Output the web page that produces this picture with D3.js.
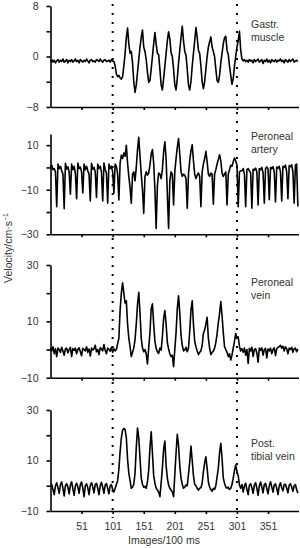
<!DOCTYPE html>
<html>
<head>
<meta charset="utf-8">
<script src="https://cdn.jsdelivr.net/npm/d3@7"></script>
<style>
body { margin: 0; background: #fff; }
text { font-family: "Liberation Sans", Arial, sans-serif; }
</style>
</head>
<body>
<script>
//Sampling: one value every 2 images, starting at image 1
var firstImage = 1;
var imageStep = 2;

//Stimulation window (dotted lines)
var markers = [101, 301];

//x tick labels
var xTicks = [51, 101, 151, 201, 251, 301, 351];

//Gastr. muscle velocity
var muscle = [
	//baseline
	-0.8, -0.5, -0.9, -0.6, -1.0, -0.7, -0.5, -0.9, -0.6, -0.8,
	-0.4, -0.9, -0.7, -0.5, -1.0, -0.6, -0.8, -0.5, -0.9, -0.7,
	-0.4, -0.8, -0.6, -1.0, -0.5, -0.7, -0.9, -0.6, -0.8, -0.4,
	-0.7, -1.0, -0.6, -0.5, -0.8, -0.7, -0.9, -0.5, -0.6, -0.8,
	-0.4, -0.7, -0.9, -0.6, -0.5, -0.8, -0.7, -0.6, -0.9, -0.5,
	-0.7,
	//contractions
	-0.8, -1.5, -2.8, -3.2, -3.0, -3.4, -3.6, -3.2, -1.5, 0.5,
	3.0, 4.5, 2.0, 0.5, 0.8, -1.0, -4.0, -5.7, -4.5, -2.5,
	-0.5, 1.5, 3.0, 4.2, 1.5, 0.8, -0.5, -2.5, -4.1, -3.8,
	-2.0, 0.0, 2.0, 3.8, 2.0, 0.5, 0.3, -2.0, -4.5, -5.3,
	-3.5, -1.5, 0.5, 2.5, 3.9, 2.8, 0.6, 0.0, -2.0, -4.5,
	-5.3, -3.5, -1.0, 1.0, 3.0, 4.8, 2.5, 0.8, 0.2, -2.0,
	-4.5, -5.3, -4.0, -1.5, 0.5, 2.5, 4.6, 3.0, 1.0, 0.5,
	-1.5, -4.0, -5.1, -4.0, -2.0, 0.0, 1.5, 2.3, 3.1, 1.5,
	0.8, 0.0, -2.0, -3.8, -4.1, -3.0, -1.0, 0.5, 2.0, 3.0,
	3.2, 1.0, 0.3, -1.5, -3.0, -4.4, -3.5, -1.5, 0.0, 1.5,
	2.5, 4.0, 1.0, -0.4,
	//recovery
	-0.7, -0.5, -0.8, -0.6, -0.9, -0.5, -0.7, -0.6, -1.0, -0.5,
	-0.8, -0.6, -0.4, -0.9, -0.7, -0.5, -1.1, -0.6, -0.8, -0.4,
	-0.9, -0.6, -1.0, -0.5, -0.7, -0.8, -0.5, -0.9, -0.6, -0.7,
	-0.4, -0.8, -0.6, -1.0, -0.5, -0.7, -0.9, -0.5, -0.8, -0.6,
	-0.4, -0.9, -0.7, -0.6, -0.8
];

//Peroneal artery velocity
var artery = [
	//baseline
	0.0, 1.0, -1.0, -0.5, -2.0, -17.6, 1.5, -0.5, 0.5, -1.5,
	-3.0, -18.5, 1.8, -0.8, 0.3, -2.0, -12.0, 1.5, -1.0, 0.5,
	-2.5, -14.0, 2.0, -0.5, 0.2, -2.0, -11.5, 1.5, -1.0, 0.5,
	-1.5, -3.0, -15.0, 1.8, -0.8, 0.0, -2.0, -13.5, 1.5, -0.5,
	0.5, -2.0, -15.0, 2.0, -1.0, -2.5, -16.0, 1.5, -0.5, 0.5,
	-2.0, -11.6, 1.5, 0.5, -3.0, -14.6,
	//contractions
	2.0, 5.5, 4.0, 6.5, 5.0, 9.9, 2.0, -4.0, -9.0, -16.0,
	-3.0, -2.0, -6.0, 0.0, 8.0, 13.5, 5.0, -3.0, -10.0, -20.6,
	-4.0, -2.0, -3.5, -2.5, 1.0, 6.0, 8.0, 2.0, -10.0, -27.4,
	-8.0, -2.5, -3.0, -5.0, -1.0, 7.0, 11.5, 4.0, -12.0, -27.4,
	-6.0, -2.0, -3.0, -16.8, -2.0, 4.0, 9.0, 13.0, 6.0, -2.0,
	-4.0, -3.0, -3.5, -5.0, -18.3, -3.0, 3.0, 7.5, 10.2, 3.0,
	-3.0, -5.0, -3.5, -2.5, -4.0, -17.6, -2.0, 1.5, 4.0, 7.2,
	2.5, -3.0, -4.0, -2.5, -3.0, -16.5, -3.0, -1.0, 1.5, 3.5,
	5.7, 3.0, -2.5, -4.0, -3.0, -2.0, -16.8, -3.0, -1.0, 1.0,
	0.5, 2.5, 4.2, 3.0, 1.0, -17.6, -2.0, -1.5,
	//recovery
	-1.5, -0.5, -3.0, -17.6, -1.0, -0.5, -1.5, -2.5, -18.3, -0.8,
	-1.2, -0.3, -2.0, -16.8, -0.5, -1.0, 0.0, -2.5, -16.0, -0.5,
	0.2, -0.8, -14.5, 0.0, -0.5, 0.3, -2.0, -15.5, 0.2, -0.3,
	0.5, -2.0, -15.0, 0.5, 0.0, 1.0, -2.0, -14.0, 0.8, 0.3,
	1.2, -2.0, -16.0, 1.0, 1.5, -17.5
];

//Peroneal vein velocity
var peronealVein = [
	//baseline
	0.5, -0.5, 1.0, -1.5, 0.3, -2.5, 0.5, 0.0, -1.0, 0.8,
	-0.5, -2.0, 0.2, 0.5, -1.2, 0.0, 0.8, -2.5, 0.3, -0.3,
	0.5, -1.5, 0.0, 0.6, -0.8, -2.2, 0.4, 0.0, -0.5, 1.0,
	-1.0, 0.2, -2.3, 0.5, -0.2, 0.3, 1.5, -0.8, 0.0, -1.8,
	0.6, 0.2, -0.5, 1.8, -0.3, -1.5, 0.5, 0.0, -0.6, 0.8,
	-1.0, 0.3, -0.5, 0.0,
	//contractions
	2.0, 4.0, 14.0, 20.0, 23.7, 20.0, 16.5, 17.3, 9.0, 4.0,
	1.0, -2.5, -1.0, 0.5, 3.5, 9.0, 16.0, 20.3, 13.0, 4.0,
	0.5, -0.8, 0.0, -1.5, -5.1, 0.5, 6.0, 14.5, 16.2, 9.0,
	3.0, 0.4, -0.8, -1.4, 0.5, -0.2, 4.5, 11.0, 13.8, 9.0,
	2.5, 0.2, -1.5, -2.5, -2.0, -6.1, 0.0, 6.0, 14.5, 19.1,
	13.0, 5.0, 1.5, -0.5, -0.2, 0.8, -0.8, 0.5, 6.5, 14.0,
	17.3, 9.0, 3.0, 1.0, -0.5, -1.8, -1.0, -0.5, 1.5, 5.7,
	6.9, 9.0, 11.4, 4.0, 0.5, -1.8, -1.0, -0.6, 0.5, 2.5,
	5.5, 9.5, 12.8, 17.0, 12.0, 6.0, 1.0, 0.0, -1.0, -2.5,
	-1.5, -3.7, -2.0, 0.5, 3.0, 5.7, 4.0, 4.5, 1.1, -0.5,
	//recovery
	0.3, -1.0, 0.5, -2.0, 0.0, -4.9, 0.4, -0.5, 0.8, -2.5,
	0.0, 0.3, -1.2, -4.5, 0.5, -0.3, 0.6, -2.0, 0.0, 0.4,
	-3.0, 0.2, -0.5, 0.5, -1.5, 0.0, 0.6, -2.2, 0.3, 0.8,
	1.0, 1.5, 0.5, 1.2, -0.5, 1.0, 0.3, -1.5, 0.5, 0.0,
	0.8, -1.0, 0.3, 0.5, -0.8, 0.2
];

//Post. tibial vein velocity
var tibialVein = [
	//baseline
	-0.5, 0.5, -1.5, -3.5, 0.0, 1.2, -0.8, -3.0, 0.5, 1.5,
	-1.0, -4.0, 0.0, 0.8, -0.5, -3.2, 0.3, 1.6, -1.2, -3.8,
	0.0, 1.0, -0.5, -3.0, 0.5, 1.5, -1.0, -4.3, 0.0, 0.8,
	-0.8, -3.5, 0.2, 1.2, -0.5, -2.8, 0.5, 1.0, -1.0, -3.5,
	0.0, 1.4, -0.6, -3.0, 0.3, 0.9, -1.0, -3.2, 0.0, 0.5,
	-1.5, -2.5,
	//contractions
	-1.0, 0.5, 2.0, 6.5, 13.5, 19.0, 22.0, 22.7, 22.3, 19.0,
	10.5, 5.0, 2.0, -1.0, -0.5, 0.5, 5.0, 15.0, 22.9, 19.0,
	11.0, 3.0, 0.5, -0.6, -0.2, -1.0, 1.5, 6.2, 15.0, 21.4,
	13.0, 4.0, 1.0, -1.0, -1.7, -2.5, -4.3, 1.0, 7.0, 14.5,
	17.7, 8.0, 3.0, 0.3, -1.0, -1.7, -2.5, -4.3, 4.5, 13.0,
	20.4, 16.0, 8.0, 3.0, 0.5, -1.0, -0.5, 0.3, 0.0, 4.5,
	9.5, 15.7, 10.0, 4.0, 0.5, 0.0, -1.0, -1.7, -1.0, -0.8,
	1.0, 5.6, 9.0, 11.5, 7.0, 1.5, -0.5, -1.5, -2.2, -1.0,
	-1.5, 0.0, 3.5, 7.0, 13.0, 16.8, 10.9, 3.0, 1.0, -0.5,
	-1.0, -0.5, -1.5, -1.0, 0.5, 3.0, 6.0, 8.2, 5.6, 4.0,
	0.3, -1.0,
	//recovery
	0.5, -2.5, 0.0, 1.0, -1.5, -3.5, 0.2, 0.8, -0.8, -3.0,
	0.3, 1.2, -1.0, -3.8, 0.0, 1.5, -0.5, -2.8, 0.5, 1.0,
	-1.2, -3.2, 0.0, 1.6, -0.5, -2.5, 0.3, 0.8, -1.0, -3.5,
	0.0, 1.2, -0.8, -2.0, 0.5, 0.6, -1.0, -2.8, 0.2, 0.8,
	-0.5, -2.2, 0.0, 0.5, -1.5, -3.0
];

//Panel names and y axes
var panelNames = [["Gastr.", "muscle"], ["Peroneal", "artery"], ["Peroneal", "vein"], ["Post.", "tibial vein"]];
var panelSeries = [muscle, artery, peronealVein, tibialVein];
var yDomains = [[-8, 8], [-30, 15], [-10, 30], [-10, 30]];
var yTicks = [[-8, -4, 0, 4, 8], [-30, -20, -10, 0, 10], [-10, 0, 10, 20, 30], [-10, 0, 10, 20, 30]];
var yTickLabels = [[-8, 0, 8], [-30, -10, 10], [-10, 10, 30], [-10, 10, 30]];

//Layout (pixels)
var width = 300;
var height = 548;
var panelTop = [6, 134, 265, 410];
var panelBottom = [107, 234.3, 377.7, 511];
var nameY = [28, 140, 286, 447];

var svg = d3.select("body").append("svg")
	.attr("width", width)
	.attr("height", height);

var x = d3.scaleLinear()
	.domain([1, 400])
	.range([50.5, 298.5]);

var fmt = d3.format("");

for(var p = 0; p < panelSeries.length; ++p) {
	var y = d3.scaleLinear()
		.domain(yDomains[p])
		.range([panelBottom[p], panelTop[p]]);

	var labels = yTickLabels[p];

	//y axis
	var gy = svg.append("g")
		.attr("transform", "translate(" + x.range()[0] + ",0)")
		.call(d3.axisLeft(y)
			.tickValues(yTicks[p])
			.tickSize(4)
			.tickSizeOuter(0)
			.tickPadding(8)
			.tickFormat(function(d) { return labels.indexOf(d) >= 0 ? fmt(d) : ""; }));

	//x axis, labels only under the last panel
	var last = (p == panelSeries.length - 1);
	var gx = svg.append("g")
		.attr("transform", "translate(0," + panelBottom[p] + ")")
		.call(d3.axisBottom(x)
			.tickValues(xTicks)
			.tickSize(3)
			.tickSizeOuter(0)
			.tickPadding(9)
			.tickFormat(function(d) { return last ? d : ""; }));

	[gy, gx].forEach(function(g) {
		g.selectAll("path, line")
			.attr("stroke", "#000")
			.attr("stroke-width", 1.6);
		g.selectAll("text")
			.attr("fill", "#333")
			.style("font-size", "10.5px")
			.style("font-family", "'Liberation Sans', Arial, sans-serif");
	});

	//signal
	var line = d3.line()
		.x(function(d, i) { return x(firstImage + i * imageStep); })
		.y(function(d) { return y(d); });

	svg.append("path")
		.datum(panelSeries[p])
		.attr("d", line)
		.attr("fill", "none")
		.attr("stroke", "#000")
		.attr("stroke-width", 1.6)
		.attr("stroke-linejoin", "round");

	//vessel name
	svg.append("text")
		.attr("x", 251)
		.attr("y", nameY[p])
		.attr("fill", "#333")
		.style("font-size", "10.5px")
		.selectAll("tspan")
		.data(panelNames[p])
		.enter().append("tspan")
			.attr("x", 251)
			.attr("dy", function(d, i) { return i == 0 ? 0 : 13; })
			.text(function(d) { return d; });
}

//dotted lines marking the window
svg.selectAll("line.marker")
	.data(markers)
	.enter().append("line")
	.attr("class", "marker")
	.attr("x1", function(d) { return x(d); })
	.attr("x2", function(d) { return x(d); })
	.attr("y1", 4)
	.attr("y2", 518)
	.attr("stroke", "#000")
	.attr("stroke-width", 2)
	.attr("stroke-dasharray", "2,7");

//axis titles
svg.append("text")
	.attr("x", 164)
	.attr("y", 544)
	.attr("text-anchor", "middle")
	.attr("fill", "#333")
	.style("font-size", "10.5px")
	.text("Images/100 ms");

var yTitle = svg.append("text")
	.attr("transform", "translate(11.5,248) rotate(-90)")
	.attr("text-anchor", "middle")
	.attr("fill", "#333")
	.style("font-size", "10.5px");
yTitle.append("tspan").text("Velocity/cm\u00b7s");
yTitle.append("tspan")
	.attr("dy", -4)
	.style("font-size", "7px")
	.text("\u22121");
</script>
</body>
</html>
